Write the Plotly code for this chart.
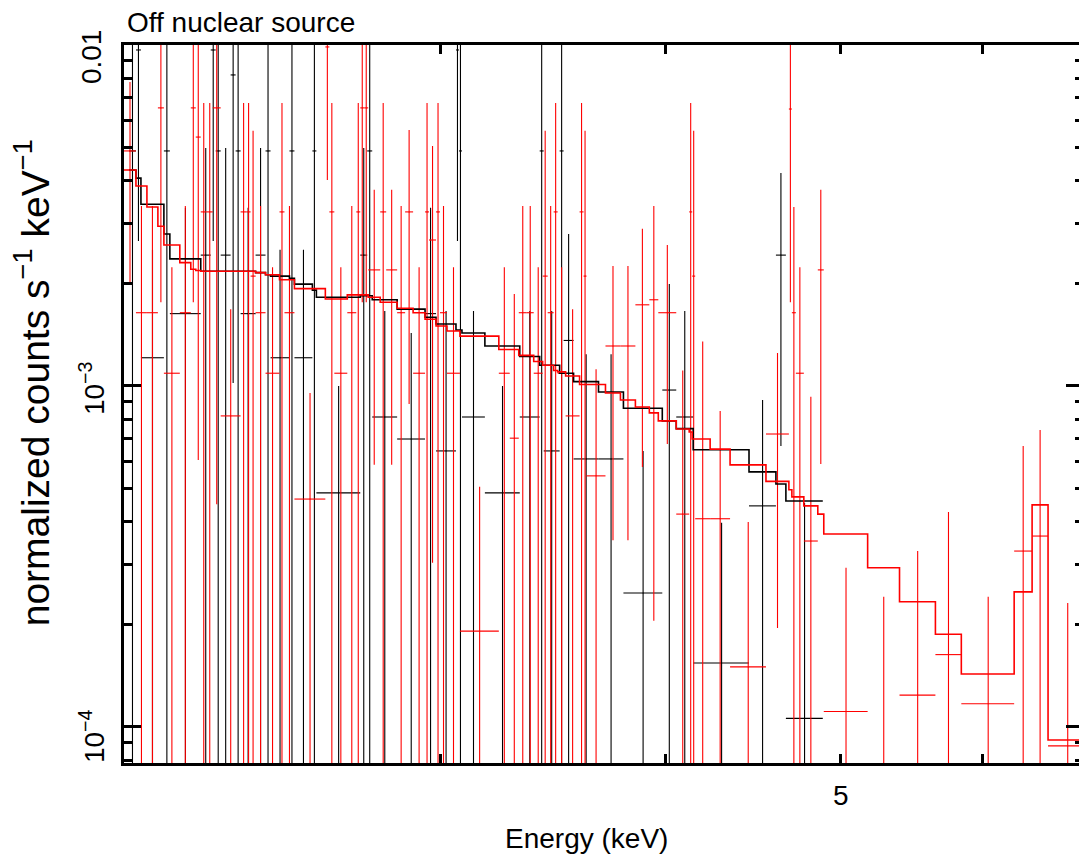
import numpy as np
import plotly.graph_objects as go

# ---- black spectrum (bin edges in keV, normalized counts/s/keV) ----
b_edges = [2.0128, 2.0308, 2.0438, 2.1047, 2.1208, 2.2063, 2.2346, 2.2489, 2.2633, 2.2923,
           2.3070, 2.3217, 2.3666, 2.3969, 2.4123, 2.4714, 2.4872, 2.5450, 2.5580, 2.7057,
           2.7299, 2.7474, 2.8364, 2.9395, 2.9811, 3.0581, 3.0698, 3.0816, 3.1733, 3.3181,
           3.4037, 3.4212, 3.4917, 3.5096, 3.5546, 3.6697, 3.7886, 3.9817, 4.0534, 4.1422,
           4.4488, 4.6046, 4.6637, 4.8891]
b_y = [0.00489, 0.00967, 0.00121, 0.00489, 0.00163, 0.00242, 0.00967, 0.00489, 0.00242, 0.00817,
       0.00489, 0.00163, 0.00242, 0.00489, 0.00121, 0.00489, 0.00121, 0.00489, 0.000486, 0.00242,
       0.00489, 0.000811, 0.000699, 0.00163, 0.000645, 0.00967, 0.00489, 0.000811, 0.000486, 0.000811,
       0.00489, 0.000645, 0.00489, 0.00136, 0.000611, 0.000611, 0.000247, 0.000973, 0.000811, 0.000154,
       0.000445, 0.00242, 0.000106]
b_up = [0.05, 0.05, 0.00251, 0.05, 0.00333, 0.00499, 0.05, 0.05, 0.00499, 0.05,
        0.05, 0.00333, 0.00499, 0.05, 0.00251, 0.05, 0.00251, 0.05, 0.001, 0.00499,
        0.05, 0.00166, 0.00143, 0.00333, 0.00166, 0.05, 0.05, 0.00166, 0.001, 0.00166,
        0.05, 0.00166, 0.05, 0.00279, 0.00124, 0.00124, 0.000645, 0.00199, 0.00166, 0.000397,
        0.00091, 0.00421, 0.000454]
b_dn = [1e-5, 0.00266, 1e-5, 1e-5, 1e-5, 1e-5, 0.00266, 1e-5, 1e-5, 0.00102,
        1e-5, 1e-5, 1e-5, 1e-5, 1e-5, 1e-5, 1e-5, 1e-5, 1e-5, 1e-5,
        1e-5, 1e-5, 1e-5, 1e-5, 1e-5, 0.00266, 1e-5, 1e-5, 1e-5, 1e-5,
        1e-5, 1e-5, 1e-5, 1e-5, 1e-5, 1e-5, 1e-5, 1e-5, 1e-5, 1e-5,
        1e-5, 0.000667, 1e-5]
b_mod = [0.0043, 0.00407, 0.00341, 0.00279, 0.00236, 0.00217, 0.00217, 0.00217, 0.00217, 0.00217,
         0.00217, 0.00217, 0.00215, 0.00212, 0.0021, 0.00207, 0.00199, 0.00191, 0.00182, 0.00184,
         0.00184, 0.00179, 0.00168, 0.00159, 0.00152, 0.00146, 0.00146, 0.00143, 0.00131, 0.00122,
         0.00115, 0.00115, 0.00109, 0.00109, 0.00103, 0.00096, 0.00086, 0.00079, 0.00075, 0.00065,
         0.00056, 0.000516, 0.00046]

# ---- red spectrum ----
r_edges = [2.0000, 2.0308, 2.0595, 2.0886, 2.1047, 2.1480, 2.1784, 2.1923, 2.2063, 2.2233,
           2.2404, 2.2633, 2.3217, 2.3396, 2.3515, 2.3666, 2.3969, 2.4401, 2.4557, 2.4872,
           2.5875, 2.6008, 2.6174, 2.6612, 2.6919, 2.7057, 2.7195, 2.7334, 2.7756, 2.7969,
           2.8364, 2.8655, 2.8949, 2.9395, 2.9545, 2.9811, 2.9963, 3.0232, 3.0737, 3.2304,
           3.2760, 3.3139, 3.3478, 3.3778, 3.4168, 3.4387, 3.4651, 3.4828, 3.5185, 3.5819,
           3.6002, 3.6140, 3.7026, 3.7741, 3.8470, 3.9162, 3.9614, 4.0534, 4.1211, 4.1369,
           4.1528, 4.2330, 4.3423, 4.5463, 4.6816, 4.6995, 4.7236, 4.7720, 4.8580, 4.8953,
           5.1778, 5.3933, 5.6467, 5.8370, 6.2451, 6.3901, 6.5218, 6.8543]
r_y = [0.00489, 0.00164, 0.00164, 0.00654, 0.00109, 0.00164, 0.00654, 0.00537, 0.00324, 0.00324,
       0.00654, 0.000817, 0.00324, 0.00324, 0.0021, 0.00164, 0.00109, 0.00324, 0.00164, 0.000466,
       0.00987, 0.00324, 0.00109, 0.00164, 0.00324, 0.00654, 0.00654, 0.00219, 0.00324, 0.00219,
       0.00164, 0.00324, 0.00109, 0.00324, 0.00268, 0.00324, 0.00164, 0.00109, 0.000191, 0.00109,
       0.000703, 0.00164, 0.00164, 0.00109, 0.0021, 0.00164, 0.00324, 0.00109, 0.000817, 0.00324,
       0.0021, 0.000545, 0.00131, 0.00131, 0.00173, 0.00179, 0.00164, 0.000421, 0.00324, 0.0021,
       0.000408, 0.000408, 0.00015, 0.000723, 0.00649, 0.00164, 0.00109, 0.000351, 0.00219, 0.000111,
       0.00006, 0.000124, 0.000163, 0.000117, 0.000328, 0.000363, 0.000088]
r_up = [0.00779, 0.00337, 0.00337, 0.05, 0.00223, 0.00337, 0.05, 0.05, 0.00676, 0.00676,
        0.05, 0.00168, 0.00676, 0.00676, 0.0056, 0.00337, 0.00223, 0.00676, 0.00337, 0.000954,
        0.05, 0.00676, 0.00223, 0.00337, 0.00676, 0.05, 0.05, 0.00376, 0.00676, 0.00376,
        0.00337, 0.00563, 0.00223, 0.00676, 0.00506, 0.00676, 0.00337, 0.00223, 0.000506, 0.00223,
        0.00186, 0.00337, 0.00337, 0.00223, 0.0056, 0.00337, 0.00676, 0.00223, 0.00168, 0.00676,
        0.0056, 0.00112, 0.00225, 0.00225, 0.00289, 0.00337, 0.00259, 0.00111, 0.00676, 0.0056,
        0.00135, 0.000845, 0.000399, 0.00125, 0.05, 0.00335, 0.00223, 0.00093, 0.00376, 0.000293,
        0.000241, 0.000328, 0.000427, 0.000241, 0.000667, 0.000743, 0.000231]
r_dn = [0.002, 1e-5, 1e-5, 0.00176, 1e-5, 1e-5, 0.00176, 0.000607, 1e-5, 1e-5,
        0.00045, 1e-5, 1e-5, 1e-5, 1e-5, 1e-5, 1e-5, 1e-5, 1e-5, 1e-5,
        0.00402, 1e-5, 1e-5, 1e-5, 1e-5, 0.00176, 0.00176, 0.000587, 1e-5, 0.000587,
        1e-5, 0.000886, 1e-5, 1e-5, 0.000303, 1e-5, 1e-5, 1e-5, 1e-5, 1e-5,
        1e-5, 1e-5, 1e-5, 1e-5, 1e-5, 1e-5, 1e-5, 1e-5, 1e-5, 1e-5,
        1e-5, 1e-5, 0.000353, 0.000353, 0.000579, 0.000205, 0.000676, 1e-5, 1e-5, 1e-5,
        1e-5, 1e-5, 1e-5, 0.000195, 0.00176, 1e-5, 1e-5, 1e-5, 0.00059, 1e-5,
        1e-5, 1e-5, 1e-5, 1e-5, 1e-5, 1e-5, 1e-5]
r_mod = [0.0043, 0.00386, 0.00335, 0.00294, 0.00259, 0.0023, 0.0022, 0.00218, 0.00217, 0.00217,
         0.00217, 0.00217, 0.00217, 0.00217, 0.00217, 0.00215, 0.00212, 0.00205, 0.00205, 0.00193,
         0.0018, 0.0018, 0.0018, 0.00185, 0.00185, 0.00185, 0.00185, 0.00182, 0.00176, 0.00176,
         0.00169, 0.00169, 0.00164, 0.00157, 0.00157, 0.0015, 0.0015, 0.00145, 0.0014, 0.00128,
         0.00128, 0.00123, 0.00123, 0.00118, 0.00115, 0.00115, 0.00111, 0.0011, 0.00107, 0.00101,
         0.00101, 0.00101, 0.000954, 0.00091, 0.000868, 0.000834, 0.00079, 0.000748, 0.000733, 0.000699,
         0.000699, 0.000653, 0.000587, 0.000525, 0.000496, 0.000473, 0.000473, 0.000445, 0.000421, 0.000368,
         0.000293, 0.000233, 0.000187, 0.000143, 0.000249, 0.000448, 0.0000916]

x_range = [2.0, 6.82]
y_range = [7.84e-5, 0.01]
FONT = "Liberation Sans, Arial, sans-serif"

# the page body has an 8px margin, so the figure is made 8px smaller
PAGE_OFF = 8


def data_trace(edges, y, up, dn, color):
    lo = np.array(edges[:-1])
    hi = np.array(edges[1:])
    cen = (lo + hi) / 2
    y = np.array(y)
    return go.Scatter(
        x=cen, y=y, mode="markers",
        marker=dict(size=1, color=color),
        error_x=dict(type="data", symmetric=False, array=hi - cen, arrayminus=cen - lo,
                     width=0, thickness=1.1, color=color),
        error_y=dict(type="data", symmetric=False, array=np.array(up) - y,
                     arrayminus=y - np.array(dn), width=0, thickness=1.1, color=color),
        hoverinfo="skip", showlegend=False)


def model_trace(edges, mod, color):
    return go.Scatter(x=edges, y=list(mod) + [mod[-1]], mode="lines",
                      line=dict(color=color, width=1.6, shape="hv"),
                      hoverinfo="skip", showlegend=False)


fig = go.Figure()
fig.add_trace(data_trace(b_edges, b_y, b_up, b_dn, "#000000"))
fig.add_trace(data_trace(r_edges, r_y, r_up, r_dn, "#ff0000"))
fig.add_trace(model_trace(b_edges, b_mod, "#000000"))
fig.add_trace(model_trace(r_edges, r_mod, "#ff0000"))

minor_y = [8e-5, 9e-5] + [k * 1e-4 for k in range(2, 10)] + [k * 1e-3 for k in range(2, 10)]

fig.update_xaxes(type="log", range=[np.log10(x_range[0]), np.log10(x_range[1])],
                 showline=True, linewidth=3, linecolor="black", mirror="allticks",
                 ticks="inside", tickvals=[3, 4, 5, 6], ticklen=9, tickwidth=3, tickcolor="black",
                 showticklabels=False, showgrid=False, zeroline=False)
fig.update_yaxes(type="log", range=[np.log10(y_range[0]), np.log10(y_range[1])],
                 showline=True, linewidth=3, linecolor="black", mirror="allticks",
                 ticks="inside", tickvals=[1e-4, 1e-3, 1e-2], ticklen=17, tickwidth=3, tickcolor="black",
                 minor=dict(ticks="inside", tickvals=minor_y, ticklen=8, tickwidth=3, tickcolor="black",
                            showgrid=False),
                 showticklabels=False, showgrid=False, zeroline=False)


def px2paper(xp, yp):
    # page pixel -> paper coords of the plot area (124..1086, 45..763)
    return (xp - 124) / 962, (763 - yp) / 718


notes = [
    ("Off nuclear source", 125, 22, 0, "left", 28),
    ("5", 843, 795, 0, "center", 28),
    ("Energy (keV)", 588, 838, 0, "center", 28),
    ("normalized counts s<sup>−1</sup> keV<sup>−1</sup>", 31, 383, -90, "center", 39),
    ("0.01", 92, 57, -90, "center", 28),
    ("10<sup>−3</sup>", 92, 388, -90, "center", 28),
    ("10<sup>−4</sup>", 92, 736, -90, "center", 28),
]
for txt, xp, yp, ang, anc, sz in notes:
    xx, yy = px2paper(xp, yp)
    fig.add_annotation(text=txt, x=xx, y=yy, xref="paper", yref="paper", showarrow=False,
                       textangle=ang, xanchor=anc, yanchor="middle",
                       font=dict(family=FONT, size=sz, color="black"))

W, H = 1087 - PAGE_OFF, 859 - PAGE_OFF
fig.update_layout(width=W, height=H,
                  margin=dict(l=124 - PAGE_OFF, r=W + PAGE_OFF - 1086, t=45 - PAGE_OFF,
                              b=H + PAGE_OFF - 763),
                  plot_bgcolor="white", paper_bgcolor="white", font=dict(family=FONT))

fig.write_html("out.html")
